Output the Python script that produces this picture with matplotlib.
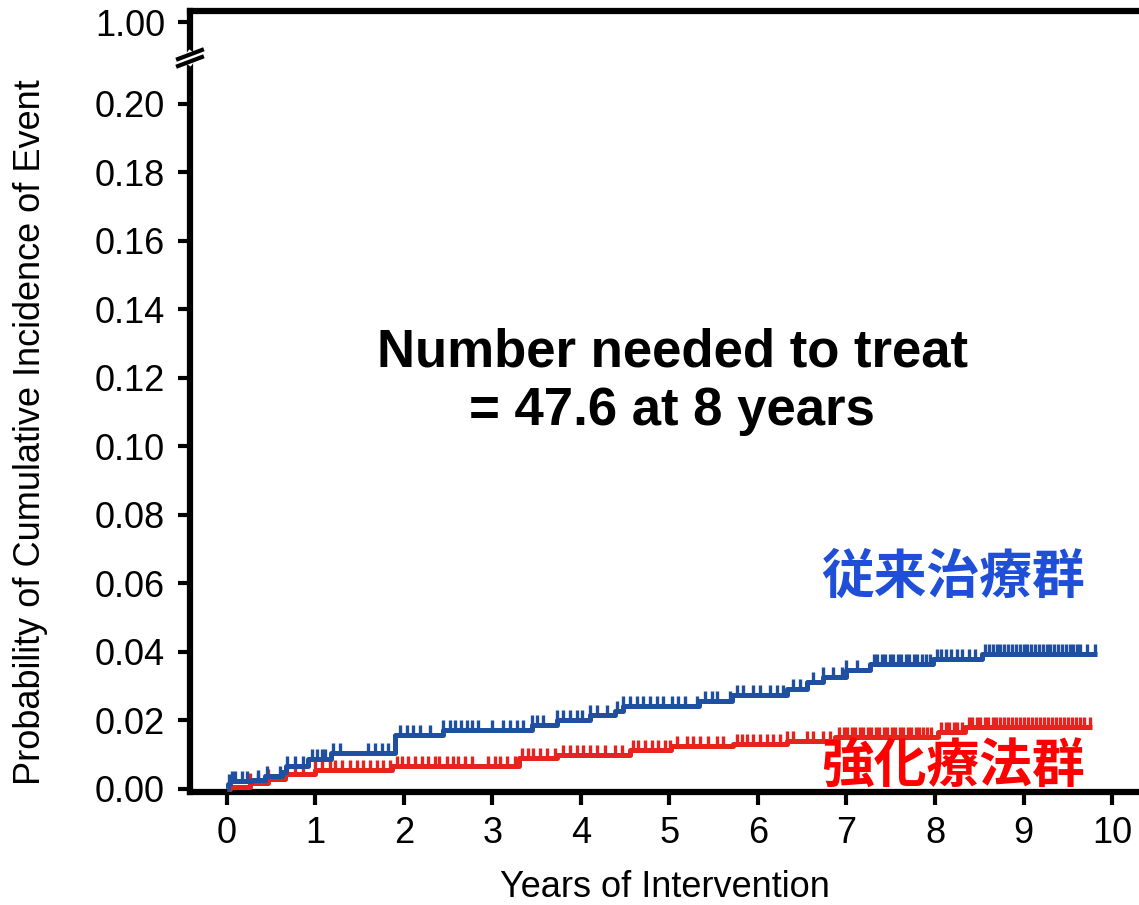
import numpy as np
import matplotlib
matplotlib.use("Agg")
import matplotlib.pyplot as plt

plt.rcParams['font.family'] = ['Liberation Sans', 'DejaVu Sans']

# cumulative incidence, step start times [years] and levels
t_conv = [0.00, 0.01, 0.03, 0.28, 0.43, 0.62, 0.67, 0.92, 1.18, 1.90, 2.44,
          3.45, 3.73, 4.10, 4.38, 4.47, 5.33, 5.71, 6.33, 6.55, 6.73, 7.00,
          7.27, 7.98, 8.53]
p_conv = [0.0000, 0.0012, 0.0021, 0.0026, 0.0036, 0.0048, 0.0065, 0.0085,
          0.0105, 0.0155, 0.0170, 0.0186, 0.0200, 0.0214, 0.0226, 0.0240,
          0.0255, 0.0273, 0.0290, 0.0310, 0.0326, 0.0345, 0.0363, 0.0377,
          0.0393]
end_conv = 9.83

t_int = [0.00, 0.03, 0.26, 0.46, 0.65, 0.99, 1.86, 3.30, 3.73, 4.55, 5.02,
         5.72, 6.33, 6.87, 8.03, 8.34]
p_int = [0.0000, 0.0004, 0.0017, 0.0029, 0.0043, 0.0053, 0.0065, 0.0088,
         0.0099, 0.0113, 0.0124, 0.0131, 0.0140, 0.0152, 0.0166, 0.0180]
end_int = 9.77

# censoring times
cens_conv = [0.02, 0.06, 0.09, 0.17, 0.23, 0.35, 0.45, 0.60, 0.68, 0.77, 0.86,
             0.96, 1.02, 1.07, 1.11, 1.20, 1.28, 1.59, 1.67, 1.75, 1.82, 1.95,
             2.03, 2.10, 2.18, 2.29, 2.44, 2.52, 2.58, 2.64, 2.71, 2.77, 2.84,
             2.99, 3.12, 3.20, 3.28, 3.34, 3.45, 3.50, 3.57, 3.73, 3.80, 3.88,
             3.95, 4.01, 4.10, 4.18, 4.29, 4.41, 4.47, 4.55, 4.63, 4.70, 4.78,
             4.86, 4.93, 5.03, 5.10, 5.18, 5.31, 5.40, 5.48, 5.54, 5.68, 5.76,
             5.83, 5.94, 6.02, 6.14, 6.21, 6.28, 6.40, 6.48, 6.62, 6.73, 6.85,
             6.95, 7.00, 7.12, 7.31, 7.35, 7.40, 7.44, 7.49, 7.53, 7.58, 7.62,
             7.67, 7.71, 7.76, 7.80, 7.85, 7.90, 7.94, 8.02, 8.07, 8.12, 8.18,
             8.25, 8.31, 8.38, 8.45, 8.57, 8.61, 8.65, 8.70, 8.74, 8.78, 8.83,
             8.87, 8.91, 8.96, 9.00, 9.04, 9.09, 9.13, 9.17, 9.22, 9.26, 9.30,
             9.35, 9.39, 9.43, 9.48, 9.52, 9.56, 9.60, 9.64, 9.72, 9.81]
cens_int = [0.26, 0.35, 0.46, 0.68, 0.77, 0.86, 0.99, 1.07, 1.16, 1.22, 1.30,
            1.39, 1.47, 1.54, 1.62, 1.69, 1.76, 1.84, 1.92, 1.98, 2.05, 2.12,
            2.20, 2.27, 2.35, 2.40, 2.49, 2.55, 2.61, 2.69, 2.77, 2.95, 3.03,
            3.08, 3.16, 3.25, 3.33, 3.40, 3.46, 3.54, 3.62, 3.71, 3.80, 3.88,
            3.95, 4.02, 4.10, 4.18, 4.27, 4.38, 4.46, 4.59, 4.64, 4.72, 4.80,
            4.87, 4.95, 5.01, 5.08, 5.20, 5.27, 5.34, 5.44, 5.54, 5.60, 5.76,
            5.82, 5.88, 5.94, 6.02, 6.10, 6.17, 6.25, 6.33, 6.40, 6.55, 6.62,
            6.73, 6.81, 6.92, 6.97, 7.01, 7.06, 7.10, 7.15, 7.19, 7.24, 7.28,
            7.33, 7.37, 7.42, 7.46, 7.51, 7.55, 7.60, 7.64, 7.69, 7.73, 7.78,
            7.82, 7.87, 7.91, 7.96, 8.07, 8.12, 8.16, 8.21, 8.25, 8.30, 8.38,
            8.42, 8.47, 8.51, 8.56, 8.60, 8.65, 8.69, 8.74, 8.78, 8.83, 8.87,
            8.92, 8.96, 9.01, 9.05, 9.10, 9.14, 9.19, 9.23, 9.28, 9.32, 9.37,
            9.41, 9.46, 9.50, 9.55, 9.59, 9.64, 9.68, 9.75]

yticks = [0.00, 0.02, 0.04, 0.06, 0.08, 0.10, 0.12, 0.14, 0.16, 0.18, 0.20, 1.00]
xticks = list(range(0, 11))

blue = '#1f4fa0'
red = '#e8231e'

# broken y axis: 0.2-1.0 squeezed
brk, k = 0.20, 0.0299


def fwd(y):
    y = np.asarray(y, dtype=float)
    return np.where(y <= brk, y, brk + (y - brk) * k)


def inv(y):
    y = np.asarray(y, dtype=float)
    return np.where(y <= brk, y, brk + (y - brk) / k)


fig = plt.figure(figsize=(11.39, 9.05), dpi=100)
ax = fig.add_axes([0.1668, 0.1249, 0.8332, 0.8624])
ax.set_yscale('function', functions=(fwd, inv))


def draw_curve(t, p, t_end, cens, color):
    tt = np.append(t, t_end)
    pp = np.append(p, p[-1])
    ax.step(tt, pp, where='post', color=color, lw=3.6, solid_capstyle='butt',
            zorder=3)
    idx = np.searchsorted(t, cens, side='right') - 1
    lev = np.asarray(p)[idx]
    ax.plot(cens, lev, linestyle='none', marker=2, markersize=7,
            markeredgewidth=2.4, color=color, zorder=3)


draw_curve(t_int, p_int, end_int, cens_int, red)
draw_curve(t_conv, p_conv, end_conv, cens_conv, blue)

ax.set_xlim(-0.418, 10.305)
ax.set_ylim(-0.001, 1.103)
ax.set_xticks(xticks)
ax.set_xticklabels([str(v) for v in xticks])
ax.set_yticks(yticks)
ax.set_yticklabels(['%.2f' % v for v in yticks])
ax.minorticks_off()

for s in ['left', 'bottom', 'top']:
    ax.spines[s].set_linewidth(4.5)
ax.spines['right'].set_visible(False)
ax.tick_params(axis='both', direction='out', length=9, width=3,
               labelsize=26, colors='black')
ax.tick_params(axis='x', pad=8)
ax.tick_params(axis='y', pad=9)

ax.set_xlabel('Years of Intervention', fontsize=26, labelpad=14)
ax.set_ylabel('Probability of Cumulative Incidence of Event', fontsize=26)
ax.yaxis.set_label_coords(-0.1496, 0.461)

# break marks on the left spine
yb = 0.9404
ax.plot([-0.004, 0.004], [yb - 0.007, yb + 0.007], transform=ax.transAxes,
        color='white', lw=8, clip_on=False, zorder=5, solid_capstyle='butt')
for dy in (-0.0045, 0.0045):
    ax.plot([-0.0126, 0.0126], [yb + dy - 0.0058, yb + dy + 0.0058],
            transform=ax.transAxes, color='black', lw=3, clip_on=False,
            zorder=6)

ax.text(5.03, 0.1188, 'Number needed to treat\n= 47.6 at 8 years',
        ha='center', va='center', fontsize=38, fontweight='bold',
        linespacing=1.22)

cjk = ['Noto Sans CJK JP', 'DejaVu Sans']
ax.text(8.2, 0.0616, '従来治療群', color='#1f4fd8', fontsize=38,
        fontweight='bold', family=cjk, ha='center', va='center')
ax.text(8.2, 0.0061, '強化療法群', color='#ff0000', fontsize=38,
        fontweight='bold', family=cjk, ha='center', va='center')

fig.savefig('out.png', dpi=100)
